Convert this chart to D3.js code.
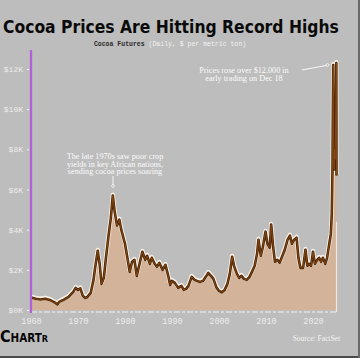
<!DOCTYPE html>
<html><head><meta charset="utf-8">
<script src="https://cdn.jsdelivr.net/npm/d3@7/dist/d3.min.js"></script>
<style>html,body{margin:0;padding:0;background:#bdbdbd;}svg{display:block;}</style>
</head><body>
<script>
const years = [1960,1961,1962,1963,1964,1965.2,1965.6,1966,1967,1968,1969,1969.5,1970,1970.5,1971,1971.5,1972,1972.7,1973.3,1973.7,1974.2,1974.6,1975,1975.5,1975.9,1976.5,1977,1977.4,1977.8,1978.3,1978.8,1979.2,1980,1980.5,1981,1981.5,1982,1982.5,1983,1983.7,1984.3,1984.7,1985.3,1985.7,1986.3,1986.8,1987.3,1988,1988.6,1989.2,1989.6,1990,1990.6,1991.3,1992,1992.5,1993,1993.5,1994.2,1994.8,1995.3,1996,1996.6,1997.2,1997.7,1998.3,1998.8,1999.4,2000,2000.6,2001.2,2001.8,2002.3,2002.8,2003.2,2003.8,2004.3,2004.8,2005.3,2005.9,2006.5,2007,2007.6,2008.1,2008.4,2008.9,2009.3,2009.9,2010.3,2010.8,2011.1,2011.5,2011.9,2012.4,2012.9,2013.5,2014,2014.6,2015.1,2015.5,2016,2016.5,2016.9,2017.3,2017.9,2018.4,2018.8,2019.2,2019.6,2020,2020.4,2020.9,2021.3,2021.7,2022.1,2022.6,2023,2023.4,2023.8,2024.0,2024.15,2024.25,2024.3,2024.38,2024.5,2024.6,2024.7,2024.8,2024.9,2024.96,2025.0];
const prices = [620,560,520,560,500,350,280,400,520,650,900,1100,1000,1080,720,600,650,850,1500,2200,2950,2300,1300,1600,2500,3700,4600,5700,4900,4200,4500,4000,3300,2600,1900,2400,2500,1700,2200,2900,2500,2700,2300,2600,2300,2150,2350,2000,2250,1700,1250,1450,1350,1100,1200,1000,1050,1200,1650,1500,1450,1400,1450,1650,1850,1700,1550,1150,950,880,1000,1300,1800,2650,2200,1800,1600,1700,1550,1500,1650,1900,2200,2800,3500,2700,3100,3900,3300,3100,4250,3200,2400,2500,2350,2700,3000,3500,3700,3300,3500,3600,2600,2100,2100,3000,2200,2300,2200,2900,2300,2500,2600,2400,2600,2300,2600,3200,3800,4800,7000,10500,12200,8500,7000,8000,7500,9000,10800,12300,6700];
const yTicks = [0,2000,4000,6000,8000,10000,12000];
const yTickLabels = ["$0K","$2K","$4K","$6K","$8K","$10K","$12K"];
const xTicks = [1960,1970,1980,1990,2000,2010,2020];
const titleText = "Cocoa Prices Are Hitting Record Highs";
const subtitleA = "Cocoa Futures ";
const subtitleB = "(Daily, $ per metric ton)";
const note1 = ["The late 1970s saw poor crop","yields in key African nations,","sending cocoa prices soaring"];
const note2 = ["Prices rose over $12,000 in","early trading on Dec 18"];
const sourceText = "Source: FactSet";

const W = 360, H = 358;
const svg = d3.select("body").append("svg").attr("width", W).attr("height", H);
svg.append("rect").attr("width", W).attr("height", H).attr("fill", "#bdbdbd");

const x = d3.scaleLinear().domain([1960, 2025]).range([31, 336.5]);
const y = d3.scaleLinear().domain([0, 12000]).range([310, 69]);
const data = years.map((t, i) => ({t, v: prices[i]}));

// title, sized to fit 336px
const title = svg.append("text").attr("x", 3).attr("y", 33)
  .attr("font-family", "'Liberation Sans Narrow','DejaVu Sans Condensed',sans-serif")
  .attr("font-weight", "bold").attr("font-size", 20).attr("fill", "#0a0a0a")
  .text(titleText);
const tw = title.node().getComputedTextLength();
title.attr("font-size", 20 * 336 / tw);

const sub = svg.append("text").attr("x", 170).attr("y", 46).attr("text-anchor", "middle")
  .attr("font-family", "'Liberation Mono','DejaVu Sans Mono',monospace").attr("font-size", 6.5);
sub.append("tspan").attr("fill", "#2a2a2a").attr("font-weight", "bold").text(subtitleA);
sub.append("tspan").attr("fill", "#f2f2f2").text(subtitleB);

// area
svg.append("path").datum(data)
  .attr("d", d3.area().x(d => x(d.t)).y0(y(0)).y1(d => y(d.v)))
  .attr("fill", "#d3b49b");

// right border of plot + bottom axis line
svg.append("line").attr("x1", x(2025)).attr("x2", x(2025)).attr("y1", y(4400)).attr("y2", y(0) + 2)
  .attr("stroke", "#f3e6da").attr("stroke-width", 1.2);
svg.append("line").attr("x1", 31).attr("x2", x(2025)).attr("y1", 312).attr("y2", 312)
  .attr("stroke", "#f2f2f2").attr("stroke-width", 1.2).attr("stroke-dasharray", "6,2,3,2");

// line with halo
const lineGen = d3.line().x(d => x(d.t)).y(d => y(d.v));
svg.append("path").datum(data).attr("d", lineGen).attr("fill", "none")
  .attr("stroke", "#fff6ea").attr("stroke-width", 4.2).attr("stroke-linejoin", "round").attr("opacity", 0.9)
  .attr("transform", "translate(0,-0.9)");
svg.append("path").datum(data).attr("d", lineGen).attr("fill", "none")
  .attr("stroke", "#4a2507").attr("stroke-width", 2.6).attr("stroke-linejoin", "round");
svg.append("path").datum(data).attr("d", lineGen).attr("fill", "none")
  .attr("stroke", "#8a4c14").attr("stroke-width", 0.9).attr("stroke-linejoin", "round");

// y axis labels
const yAxis = d3.axisLeft(y).tickValues(yTicks).tickFormat((d, i) => yTickLabels[i]).tickSize(2).tickPadding(4);
const yg = svg.append("g").attr("transform", "translate(29,0)").call(yAxis);
yg.select(".domain").remove();
yg.selectAll(".tick line").attr("stroke", "#f4f4f4");
yg.selectAll("text").attr("fill", "#ececec").attr("font-size", 8)
  .attr("font-family", "'Liberation Mono','DejaVu Sans Mono',monospace");

// x axis labels
const xAxis = d3.axisBottom(x).tickValues(xTicks).tickFormat(d3.format("d")).tickSize(0).tickPadding(6);
const xg = svg.append("g").attr("transform", "translate(0,312)").call(xAxis);
xg.select(".domain").remove();
xg.selectAll("text").attr("fill", "#ececec").attr("font-size", 8.5)
  .attr("font-family", "'Liberation Mono','DejaVu Sans Mono',monospace");

// purple vertical line
svg.append("line").attr("x1", 31).attr("x2", 31).attr("y1", 50).attr("y2", 313)
  .attr("stroke", "#a349d6").attr("stroke-width", 2.2);
svg.append("line").attr("x1", 31).attr("x2", 31).attr("y1", 50).attr("y2", 313)
  .attr("stroke", "#d49cf0").attr("stroke-width", 0.6);

// annotations
function note(lines, cx, y0) {
  const t = svg.append("text").attr("text-anchor", "middle")
    .attr("font-family", "'Liberation Serif','DejaVu Serif',serif").attr("font-size", 8.2)
    .attr("fill", "#fbfbfb");
  lines.forEach((l, i) => t.append("tspan").attr("x", cx).attr("y", y0 + i * 7.6).text(l));
}
note(note1, 115, 159);
note(note2, 244, 73);
svg.append("line").attr("x1", 113).attr("x2", 113).attr("y1", 176).attr("y2", 185)
  .attr("stroke", "#f6f6f6").attr("stroke-width", 1);
svg.append("circle").attr("cx", 113).attr("cy", 186).attr("r", 1.4).attr("fill", "none").attr("stroke", "#f6f6f6").attr("stroke-width", 0.8);
svg.append("line").attr("x1", 302).attr("x2", 326).attr("y1", 70).attr("y2", 65.5)
  .attr("stroke", "#f6f6f6").attr("stroke-width", 1.2);
svg.append("circle").attr("cx", 327.5).attr("cy", 65).attr("r", 1.4).attr("fill", "none").attr("stroke", "#f6f6f6").attr("stroke-width", 0.8);

// logo
const logo = svg.append("text").attr("x", 0).attr("y", 342)
  .attr("font-family", "'Liberation Sans Narrow','DejaVu Sans Condensed',sans-serif")
  .attr("font-weight", "bold").attr("fill", "#050505");
logo.append("tspan").attr("font-size", 16).text("C");
logo.append("tspan").attr("font-size", 11.5).text("HART");
logo.append("tspan").attr("font-size", 9).text("R");

svg.append("text").attr("x", 340).attr("y", 341).attr("text-anchor", "end")
  .attr("font-family", "'Liberation Serif','DejaVu Serif',serif").attr("font-size", 7.5)
  .attr("fill", "#f4f4f4").text(sourceText);

// frame
svg.append("line").attr("x1", 0).attr("x2", W).attr("y1", H - 1).attr("y2", H - 1).attr("stroke", "#4a4a4a").attr("stroke-width", 2);
svg.append("line").attr("x1", W - 1).attr("x2", W - 1).attr("y1", 0).attr("y2", H).attr("stroke", "#6a6a6a").attr("stroke-width", 2);
</script>
</body></html>
